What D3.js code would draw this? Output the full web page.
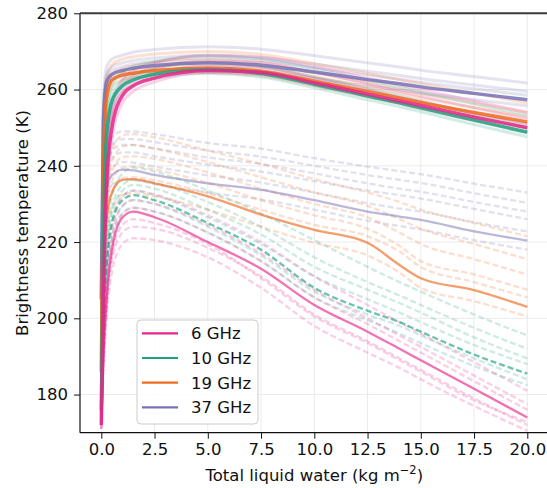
<!DOCTYPE html>
<html>
<head>
<meta charset="utf-8">
<script src="https://cdn.jsdelivr.net/npm/d3@7"></script>
<style>
  body { margin: 0; background: #fff; }
  svg { display: block; font-family: "DejaVu Sans", sans-serif; }
</style>
</head>
<body>
<svg id="chart" width="547" height="488"></svg>
<script>
// ---------------- DATA ----------------
const xValues = [0, 0.1, 0.25, 0.5, 1, 1.5, 2.5, 5, 7.5, 10, 12.5, 14, 15, 17.5, 20];
const frequencies = ["6 GHz", "10 GHz", "19 GHz", "37 GHz"];
const xTicks = [0, 2.5, 5, 7.5, 10, 12.5, 15, 17.5, 20];
const yTicks = [180, 200, 220, 240, 260, 280];

// Vertical polarisation (upper band), highlighted line per frequency
const v6Main  = [172, 205, 235, 250, 258.5, 261, 263, 265, 264.5, 261.8, 258.8, 257, 255.8, 252.8, 250];
const v10Main = [176, 222, 248, 257, 261, 262.5, 264, 265.2, 264.2, 261.4, 258.3, 256.5, 255.2, 252, 248.8];
const v19Main = [186, 240, 258, 262.5, 263.8, 264.3, 265, 265.6, 264.8, 262.2, 259.5, 257.8, 256.6, 254, 251.5];
const v37Main = [205, 252, 262, 264, 265, 265.6, 266.3, 267, 266.4, 264.6, 262.6, 261.5, 260.7, 259, 257.3];

// Vertical polarisation ensemble members (faint)
const v6Members = [
  [174, 212, 240, 254, 261, 263.5, 265.5, 267.5, 267, 264.5, 261.5, 259.5, 258.3, 255.2, 252.3],
  [171, 200, 230, 247, 256.5, 259.5, 262, 264.5, 264, 261.2, 258.2, 256.3, 255, 251.8, 248.8],
  [176, 218, 244, 256, 262.5, 265, 267, 269, 268.5, 266, 263, 261.2, 260, 257, 254],
  [173, 208, 237, 252, 259.5, 262, 264, 266.2, 265.8, 263, 260, 258, 256.8, 253.8, 251]
];
const v10Members = [
  [178, 228, 251, 259, 262.5, 264, 265.5, 267, 266, 263.3, 260.2, 258.4, 257, 253.8, 250.6],
  [175, 216, 244, 254.5, 259.5, 261.2, 262.8, 264.2, 263.3, 260.5, 257.3, 255.5, 254.2, 250.8, 247.6],
  [180, 232, 254, 261, 264.5, 266, 267.3, 268.8, 268, 265.4, 262.4, 260.6, 259.3, 256.2, 253.2],
  [177, 224, 249, 257.5, 261.5, 263, 264.5, 266, 265, 262.3, 259.2, 257.4, 256.1, 252.9, 249.8]
];
const v19Members = [
  [188, 244, 260, 264, 265.5, 266.2, 267, 267.8, 267, 264.5, 261.8, 260.1, 259, 256.5, 254],
  [184, 236, 256, 261, 262.6, 263.2, 263.8, 264.5, 263.6, 261, 258.2, 256.5, 255.3, 252.7, 250],
  [190, 248, 263, 266.5, 268, 268.6, 269.3, 270, 269.2, 266.8, 264.2, 262.6, 261.5, 259, 256.5],
  [187, 242, 259, 263, 264.6, 265.2, 266, 266.7, 265.9, 263.4, 260.7, 259, 257.8, 255.3, 252.8]
];
const v37Members = [
  [208, 255, 264, 266, 267, 267.6, 268.3, 269, 268.4, 266.7, 264.8, 263.7, 262.9, 261.2, 259.5],
  [202, 249, 260, 262.5, 263.6, 264.2, 264.8, 265.5, 264.8, 263, 261, 259.9, 259.1, 257.4, 255.7],
  [212, 258, 266, 268, 269, 269.8, 270.5, 271.2, 270.6, 268.9, 267, 265.9, 265.1, 263.4, 261.7],
  [206, 253, 262.5, 265, 266, 266.7, 267.4, 268.2, 267.6, 265.8, 263.8, 262.7, 261.9, 260.2, 258.5]
];

// Horizontal polarisation (lower group), highlighted line per frequency
const h6Main  = [172, 190, 205, 218, 226.5, 228, 226.5, 220, 213, 203.5, 196.5, 192, 189, 181.5, 174];
const h10Main = [176, 198, 214, 225, 231, 232.3, 231, 225, 218, 208, 202, 199, 196.5, 190.5, 185.5];
const h19Main = [186, 212, 226, 233, 236.3, 236.5, 235.4, 232, 227.2, 223.2, 219.8, 214, 210.5, 207.4, 203];
const h37Main = [205, 225, 234, 237.5, 239, 238.8, 237.6, 235.4, 233.7, 231, 228, 226.7, 225.8, 222.8, 220.4];

// Horizontal polarisation ensemble members (faint, dashed)
const h6Members = [
  [171, 186, 200, 212, 219.5, 221, 220.5, 216, 208, 198, 191, 187, 184, 177, 170.5],
  [173, 193, 209, 221, 229.5, 231, 230, 224.5, 217, 207.5, 200, 195.5, 192.5, 185, 177.5],
  [172, 188, 203, 215, 222.5, 224, 223.5, 218.5, 211, 201, 194, 189.5, 186.5, 179, 172],
  [174, 196, 212, 224, 232, 233.5, 232.5, 227, 220, 211, 203.5, 199, 196, 188.5, 181],
  [172, 191, 206, 219, 227.5, 229, 228, 222.5, 215, 205.5, 198.5, 194, 191, 183.5, 176],
  [171, 189, 204, 216.5, 224.5, 226, 225, 219.5, 210.5, 200.5, 193.5, 189, 186, 178.5, 172.8]
];
const h10Members = [
  [177, 202, 218, 229, 235, 236.3, 235.5, 230.5, 224, 216, 209.5, 206, 203.5, 197.5, 192],
  [175, 195, 210, 221, 227.5, 229, 228, 222.5, 215, 205.5, 199.5, 196, 193.5, 187.5, 182.5],
  [178, 205, 221, 232, 238, 239.5, 238.5, 233.5, 227.5, 220.5, 213.5, 209.5, 207, 201, 195.5],
  [176, 199, 215, 226, 232, 233.5, 232.3, 226.5, 219.5, 211, 205, 201.5, 199, 193, 188],
  [176, 197, 212, 223.5, 229.5, 231, 230, 224, 216.5, 207, 201, 198, 195.5, 189.5, 184],
  [177, 200, 216, 227.5, 233.5, 235, 234, 228.5, 222, 213.5, 207.5, 204, 201.5, 195, 189.5]
];
const h19Members = [
  [187, 218, 233, 241, 245, 245.5, 244.5, 241, 237, 233, 229.5, 226, 223.5, 219.5, 215.5],
  [185, 209, 222, 229, 232.5, 232.8, 232, 228.5, 224, 219.8, 216.5, 212, 208, 204.5, 200.5],
  [188, 221, 236, 244, 248, 248.3, 247.5, 244, 240.5, 236.5, 233, 230.5, 228.5, 225, 221.5],
  [186, 214, 228, 236, 239.5, 239.8, 239, 235.5, 231, 227, 223.5, 219, 215, 211.5, 207.5],
  [186, 211, 225, 233, 236.8, 237, 236.2, 232.8, 228.5, 224.5, 221.5, 217.5, 213.5, 209.5, 205.5],
  [187, 216, 231, 238.5, 242.3, 242.5, 241.8, 238.3, 234, 230, 226.5, 222.5, 219.5, 215.5, 211.5]
];
const h37Members = [
  [206, 228, 238, 242, 243.5, 243.5, 242.5, 240.3, 238.5, 236, 233.5, 232.3, 231.4, 228.7, 226],
  [204, 222, 231, 235, 236.5, 236.3, 235.2, 233, 231.2, 228.5, 225.6, 224.2, 223.3, 220.5, 218],
  [208, 231, 241, 245.5, 247, 247, 246.2, 244, 242.4, 240, 237.6, 236.3, 235.5, 232.8, 230.3],
  [207, 230, 240, 244, 245.5, 245.4, 244.6, 242.2, 240.5, 238, 235.4, 234, 233.2, 230.5, 228],
  [205, 226, 235.5, 239.5, 241, 240.8, 239.8, 237.5, 235.6, 233, 230.2, 228.8, 228, 225.2, 222.8],
  [209, 233, 243, 247.5, 249, 249, 248.3, 246, 244.5, 242, 239.8, 238.6, 237.8, 235.3, 233]
];

const colors = ["#e9258a", "#1ca37c", "#f06a1e", "#7771b6"];

// ---------------- CHART ----------------
(function () {
const svg = d3.select("#chart");
const mLeft = 80, mRight = 548.6, mTop = 13.3, mBottom = 432.7;
const FS = 16.5;

const x = d3.scaleLinear().domain([-1, 21]).range([mLeft, mRight]);
const y = d3.scaleLinear().domain([170, 280]).range([mBottom, mTop]);

svg.append("defs").append("clipPath").attr("id", "plotclip")
  .append("rect").attr("x", mLeft).attr("y", mTop)
  .attr("width", mRight - mLeft).attr("height", mBottom - mTop);

// grid
const grid = svg.append("g");
grid.selectAll(".gx").data(xTicks).join("line")
  .attr("x1", d => x(d)).attr("x2", d => x(d))
  .attr("y1", mTop).attr("y2", mBottom)
  .attr("stroke", "#ebebeb").attr("stroke-width", 1);
grid.selectAll(".gy").data(yTicks).join("line")
  .attr("x1", mLeft).attr("x2", mRight)
  .attr("y1", d => y(d)).attr("y2", d => y(d))
  .attr("stroke", "#ebebeb").attr("stroke-width", 1);

const line = d3.line()
  .x((d, i) => x(xValues[i]))
  .y(d => y(d))
  .curve(d3.curveMonotoneX);

const plot = svg.append("g").attr("clip-path", "url(#plotclip)");

const hMembers = [h6Members, h10Members, h19Members, h37Members];
const hMains = [h6Main, h10Main, h19Main, h37Main];
const vMembers = [v6Members, v10Members, v19Members, v37Members];
const vMains = [v6Main, v10Main, v19Main, v37Main];

// Lower group: faint dashed members
[3, 2, 1, 0].forEach(k => {
  hMembers[k].forEach(arr => {
    plot.append("path").datum(arr)
      .attr("d", line).attr("fill", "none")
      .attr("stroke", colors[k]).attr("stroke-opacity", 0.22)
      .attr("stroke-width", 2.3).attr("stroke-dasharray", "6,3");
  });
});
// Lower group: highlighted lines
[3, 2, 1, 0].forEach(k => {
  plot.append("path").datum(hMains[k])
    .attr("d", line).attr("fill", "none")
    .attr("stroke", colors[k]).attr("stroke-opacity", k === 3 ? 0.5 : 0.65)
    .attr("stroke-width", 2.3)
    .attr("stroke-dasharray", k === 1 ? "6,3" : null);
});

// Upper group: faint members
[3, 2, 1, 0].forEach(k => {
  vMembers[k].forEach(arr => {
    plot.append("path").datum(arr)
      .attr("d", line).attr("fill", "none")
      .attr("stroke", colors[k]).attr("stroke-opacity", 0.2)
      .attr("stroke-width", 3);
  });
});
// Upper group: highlighted lines
[3, 2, 1, 0].forEach(k => {
  plot.append("path").datum(vMains[k])
    .attr("d", line).attr("fill", "none")
    .attr("stroke", colors[k]).attr("stroke-opacity", 0.85)
    .attr("stroke-width", 3.5);
});

// axes
const xAxis = d3.axisBottom(x).tickValues(xTicks).tickFormat(d3.format(".1f")).tickSize(6).tickPadding(5);
const yAxis = d3.axisLeft(y).tickValues(yTicks).tickFormat(d3.format("d")).tickSize(6).tickPadding(6);

const gx = svg.append("g").attr("transform", `translate(0,${mBottom})`).call(xAxis);
const gy = svg.append("g").attr("transform", `translate(${mLeft},0)`).call(yAxis);
[gx, gy].forEach(g => {
  g.select(".domain").remove();
  g.selectAll("text").attr("font-size", FS).attr("font-family", "DejaVu Sans").attr("fill", "#111");
  g.selectAll("line").attr("stroke", "#111");
});

// spines
svg.append("line").attr("x1", mLeft).attr("x2", mLeft).attr("y1", mTop).attr("y2", mBottom)
  .attr("stroke", "#111").attr("stroke-width", 1.2);
svg.append("line").attr("x1", mLeft).attr("x2", mRight).attr("y1", mBottom).attr("y2", mBottom)
  .attr("stroke", "#111").attr("stroke-width", 1.2);
svg.append("line").attr("x1", mLeft).attr("x2", 547).attr("y1", mTop).attr("y2", mTop)
  .attr("stroke", "#3a3a3a").attr("stroke-width", 2);

// axis labels
const xl = svg.append("text")
  .attr("x", (mLeft + mRight) / 2).attr("y", 481)
  .attr("text-anchor", "middle").attr("font-size", FS).attr("fill", "#111");
xl.append("tspan").text("Total liquid water (kg m");
xl.append("tspan").attr("dy", -7).attr("font-size", 11.5).text("\u22122");
xl.append("tspan").attr("dy", 7).text(")");

svg.append("text")
  .attr("transform", `translate(27.5,${(mTop + mBottom) / 2}) rotate(-90)`)
  .attr("text-anchor", "middle").attr("font-size", FS).attr("fill", "#111")
  .text("Brightness temperature (K)");

// legend
const lg = svg.append("g");
lg.append("rect").attr("x", 137).attr("y", 320).attr("width", 121).attr("height", 104)
  .attr("rx", 4).attr("fill", "white").attr("fill-opacity", 0.85)
  .attr("stroke", "#cccccc").attr("stroke-width", 1);
frequencies.forEach((f, i) => {
  const yy = 333.3 + i * 24.7;
  lg.append("line").attr("x1", 142).attr("x2", 178).attr("y1", yy).attr("y2", yy)
    .attr("stroke", colors[i]).attr("stroke-width", 2.2);
  lg.append("text").attr("x", 191).attr("y", yy).attr("dy", "0.36em")
    .attr("font-size", FS).attr("fill", "#111").text(f);
});
})();
</script>
</body>
</html>
